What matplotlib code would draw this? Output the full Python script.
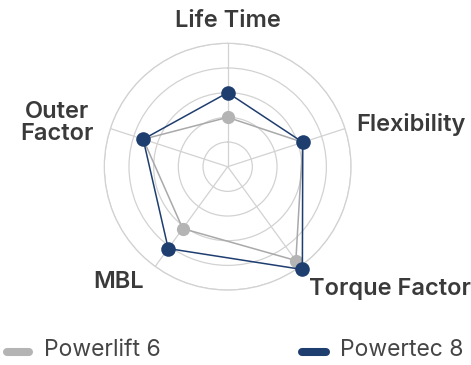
import numpy as np
import matplotlib
matplotlib.use('Agg')
from matplotlib import pyplot as plt
from matplotlib.lines import Line2D

labels     = ['Life Time', 'Flexibility', 'Torque Factor', 'MBL', 'Outer\nFactor']
powerlift  = [2.0, 3.2, 4.7, 3.1, 3.6]
powertec   = [3.0, 3.2, 5.15, 4.1, 3.6]
series     = ['Powerlift 6', 'Powertec 8']

plt.rcParams['font.family'] = ['Inter', 'DejaVu Sans']

navy = '#1f3e70'
gray = '#b4b4b4'
txt  = '#3a3a3a'

fig = plt.figure(figsize=(4.71, 3.65), dpi=100)
ax = fig.add_axes([0.2214, 0.2053, 0.524, 0.676], polar=True)
ax.set_theta_offset(np.pi / 2)
ax.set_theta_direction(-1)

ang = np.linspace(0, 2 * np.pi, len(labels), endpoint=False)
closed = np.append(ang, ang[0])

ax.plot(closed, powerlift + powerlift[:1], color='#a9a9a9', lw=1.1, clip_on=False, zorder=3)
ax.plot(ang, powerlift, 'o', color=gray, ms=9.5, mec='none', clip_on=False, zorder=4)
ax.plot(closed, powertec + powertec[:1], color=navy, lw=1.1, clip_on=False, zorder=5)
ax.plot(ang, powertec, 'o', color=navy, ms=10.5, mec='none', clip_on=False, zorder=6)

ax.set_ylim(0, 5)
ax.set_yticks([1, 2, 3, 4, 5])
ax.set_yticklabels([])
ax.set_xticks(ang)
ax.set_xticklabels([])
ax.grid(color='#d2d2d2', lw=0.9)
ax.spines['polar'].set_color('#d2d2d2')
ax.spines['polar'].set_linewidth(0.9)

# axis labels
lab_pos = [(5.45, 'center', 'bottom'), (5.5, 'left', 'center'), (5.6, 'left', 'top'),
           (5.8, 'right', 'center'), (5.7, 'right', 'center')]
for a, l, (r, ha, va) in zip(ang, labels, lab_pos):
    ax.text(a, r, l, ha=ha, va=va, fontsize=17, fontweight='semibold', color=txt,
            linespacing=1.0, multialignment='center', clip_on=False)

# legend
for x0, x1, tx, name, c in [(7, 29, 44, series[0], gray), (302, 326, 340, series[1], navy)]:
    fig.add_artist(Line2D([x0 / 471, x1 / 471], [13 / 365, 13 / 365], color=c, lw=5.8,
                          solid_capstyle='round', transform=fig.transFigure))
    fig.text(tx / 471, 15 / 365, name, ha='left', va='center', fontsize=16.5, color='#454545')

fig.savefig('out.png', dpi=100)
